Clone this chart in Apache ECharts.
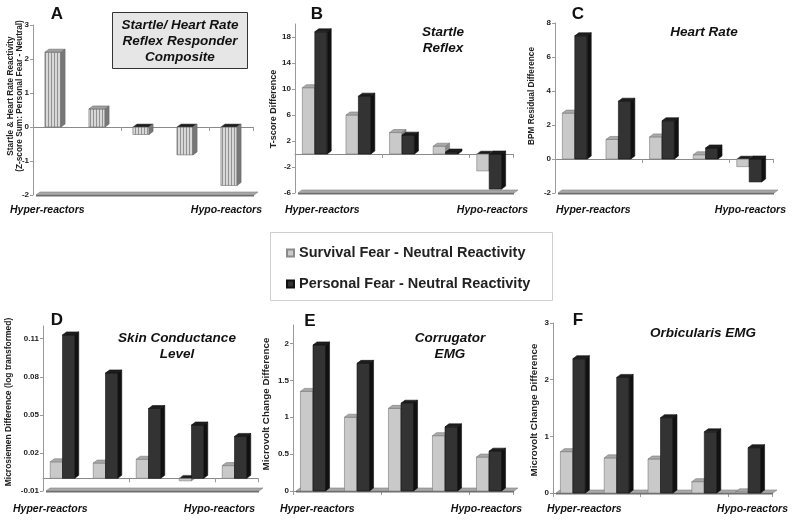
<!DOCTYPE html>
<html>
<head>
<meta charset="utf-8">
<script src="https://cdn.jsdelivr.net/npm/echarts@6/dist/echarts.min.js"></script>
<style>html,body{margin:0;padding:0;background:#fff}#c{width:800px;height:521px}</style>
</head>
<body>
<div id="c"></div>
<script>
// ---------- data ----------
const categories = ['Group 1', 'Group 2', 'Group 3', 'Group 4', 'Group 5'];
const compositeA = [2.2, 0.53, -0.22, -0.82, -1.72];
const startleSurvival = [10.2, 6.0, 3.3, 1.2, -2.6];
const startlePersonal = [18.8, 8.9, 2.9, 0.3, -5.4];
const hrSurvival = [2.7, 1.15, 1.3, 0.25, -0.45];
const hrPersonal = [7.25, 3.4, 2.25, 0.65, -1.35];
const sclSurvival = [0.013, 0.012, 0.015, -0.002, 0.01];
const sclPersonal = [0.113, 0.083, 0.055, 0.042, 0.033];
const corrSurvival = [1.35, 1.0, 1.12, 0.75, 0.46];
const corrPersonal = [1.98, 1.73, 1.19, 0.87, 0.54];
const orbSurvival = [0.73, 0.62, 0.6, 0.2, 0.02];
const orbPersonal = [2.37, 2.04, 1.33, 1.08, 0.8];
const yMins = [-2, -6, -2, -0.01, 0, 0];
const yMaxs = [3, 20, 8, 0.12, 2.25, 3];
const yIntervals = [1, 4, 2, 0.03, 0.5, 1];
const legendNames = ['Survival Fear - Neutral Reactivity', 'Personal Fear - Neutral Reactivity'];

// ---------- layout ----------
const FONT = 'Liberation Sans, Arial, sans-serif';
const grids = [
  {left: 33, top: 25, width: 220, height: 170},
  {left: 295, top: 24, width: 218, height: 169},
  {left: 555, top: 23, width: 218, height: 170},
  {left: 43, top: 326, width: 215, height: 165},
  {left: 293, top: 325, width: 220, height: 166},
  {left: 553, top: 323, width: 219, height: 170}
];

const hatch = document.createElement('canvas');
hatch.width = 3; hatch.height = 3;
(function(){const g = hatch.getContext('2d'); g.fillStyle = '#d8d8d8'; g.fillRect(0,0,3,3); g.fillStyle = '#929292'; g.fillRect(0,0,1,3);})();

const styles = {
  light: {front: '#c9c9c9', top: '#a9a9a9', side: '#8a8a8a', stroke: '#7a7a7a'},
  dark: {front: '#333333', top: '#1e1e1e', side: '#111111', stroke: '#111111'},
  hatch: {front: {image: hatch, repeat: 'repeat'}, top: '#a0a0a0', side: '#777777', stroke: '#6a6a6a'}
};

function barSeries(gi, values, kind, slot, nSlots, ratio, name) {
  const st = styles[kind];
  return {
    type: 'custom', name: name, xAxisIndex: gi, yAxisIndex: gi, z: 3,
    data: values.map((v, i) => [i, v]),
    encode: {x: 0, y: 1},
    itemStyle: {color: kind === 'dark' ? '#333333' : '#c9c9c9', borderColor: kind === 'dark' ? '#111' : '#8a8a8a', borderWidth: 0.6},
    renderItem: function (params, api) {
      const i = api.value(0), v = api.value(1);
      const base = api.coord([i, 0]);
      const tip = api.coord([i, v]);
      const band = api.size([1, 0])[0];
      const bw = band * ratio;
      const d = 4, dy = 3;
      const groupW = nSlots * bw + d;
      const x = base[0] - groupW / 2 + slot * bw;
      const yT = Math.min(base[1], tip[1]);
      const yB = Math.max(base[1], tip[1]);
      const topFill = v < 0 ? '#1a1a1a' : st.top;
      return {
        type: 'group',
        children: [
          {type: 'rect', shape: {x: x, y: yT, width: bw, height: Math.max(yB - yT, 0.5)},
           style: {fill: st.front, stroke: st.stroke, lineWidth: 0.6}},
          {type: 'polygon', shape: {points: [[x, yT], [x + d, yT - dy], [x + bw + d, yT - dy], [x + bw, yT]]},
           style: {fill: topFill, stroke: st.stroke, lineWidth: 0.6}},
          {type: 'polygon', shape: {points: [[x + bw, yT], [x + bw + d, yT - dy], [x + bw + d, yB - dy], [x + bw, yB]]},
           style: {fill: st.side, stroke: st.stroke, lineWidth: 0.6}}
        ]
      };
    }
  };
}

function floorSeries(gi) {
  return {
    type: 'custom', xAxisIndex: gi, yAxisIndex: gi, z: 1, silent: true,
    data: [[0, yMins[gi]]], encode: {x: 0, y: 1},
    renderItem: function (params, api) {
      const cs = params.coordSys;
      const x = cs.x + 3, w = cs.width - 2, yb = cs.y + cs.height;
      const d = 4, dy = 3;
      return {
        type: 'group',
        children: [
          {type: 'polygon', shape: {points: [[x, yb], [x + d, yb - dy], [x + w + d, yb - dy], [x + w, yb]]},
           style: {fill: '#a8a8a8', stroke: '#808080', lineWidth: 0.6}},
          {type: 'rect', shape: {x: x, y: yb, width: w, height: 1.5}, style: {fill: '#6e6e6e'}}
        ]
      };
    }
  };
}

const fmt = v => String(Math.round(v * 1000) / 1000);

const xAxes = grids.map((g, gi) => ({
  type: 'category', gridIndex: gi, data: categories,
  axisLine: {onZero: true, lineStyle: {color: '#8a8a8a', width: 1}},
  axisTick: {show: true, length: 4, lineStyle: {color: '#9a9a9a'}},
  axisLabel: {show: false}, splitLine: {show: false}
}));
const yAxes = grids.map((g, gi) => ({
  type: 'value', gridIndex: gi, min: yMins[gi], max: yMaxs[gi], interval: yIntervals[gi],
  axisLine: {show: true, lineStyle: {color: '#9a9a9a', width: 1}},
  axisTick: {show: true, length: 3, lineStyle: {color: '#9a9a9a'}},
  splitLine: {show: false},
  axisLabel: {fontSize: 8, fontWeight: 'bold', color: '#222', fontFamily: FONT, margin: 4,
    showMaxLabel: [true, false, true, false, false, true][gi], formatter: fmt}
}));

const series = [];
grids.forEach((g, gi) => series.push(floorSeries(gi)));
series.push(barSeries(0, compositeA, 'hatch', 0, 1, 0.367, 'Composite'));
const pairs = [[1, startleSurvival, startlePersonal], [2, hrSurvival, hrPersonal], [3, sclSurvival, sclPersonal],
               [4, corrSurvival, corrPersonal], [5, orbSurvival, orbPersonal]];
pairs.forEach(p => {
  series.push(barSeries(p[0], p[1], 'light', 0, 2, 0.285, legendNames[0]));
  series.push(barSeries(p[0], p[2], 'dark', 1, 2, 0.285, legendNames[1]));
});

function txt(text, x, y, font, opts) {
  return Object.assign({type: 'text', x: x, y: y, z: 10, silent: true,
    style: Object.assign({text: text, font: font, fill: '#111', textAlign: 'center', textVerticalAlign: 'middle'}, (opts && opts.style) || {})},
    opts && opts.rotation ? {rotation: opts.rotation} : {});
}
const letterFont = 'bold 17px ' + FONT;
const titleFont = 'italic bold 13.5px ' + FONT;
const reactFont = 'italic bold 10.5px ' + FONT;
const R90 = Math.PI / 2;

const graphics = [
  {type: 'rect', z: 0, shape: {x: 270.5, y: 232.5, width: 282, height: 68}, style: {fill: '#fff', stroke: '#cfcfcf', lineWidth: 1}},
  {type: 'rect', z: 5, shape: {x: 112.5, y: 12.5, width: 135, height: 56}, style: {fill: '#e6e6e6', stroke: '#333', lineWidth: 1}},
  txt('Startle/ Heart Rate', 180, 25, titleFont),
  txt('Reflex Responder', 180, 41, titleFont),
  txt('Composite', 180, 57, titleFont),
  txt('A', 57, 14, letterFont), txt('B', 317, 14, letterFont), txt('C', 578, 14, letterFont),
  txt('D', 57, 320, letterFont), txt('E', 310, 321, letterFont), txt('F', 578, 320, letterFont),
  txt('Startle', 443, 32, titleFont), txt('Reflex', 443, 48, titleFont),
  txt('Heart Rate', 704, 32, titleFont),
  txt('Skin Conductance', 177, 338, titleFont), txt('Level', 177, 354, titleFont),
  txt('Corrugator', 450, 338, titleFont), txt('EMG', 450, 354, titleFont),
  txt('Orbicularis EMG', 703, 333, titleFont),
  // hyper / hypo
  txt('Hyper-reactors', 10, 210, reactFont, {style: {textAlign: 'left'}}),
  txt('Hypo-reactors', 262, 210, reactFont, {style: {textAlign: 'right'}}),
  txt('Hyper-reactors', 285, 210, reactFont, {style: {textAlign: 'left'}}),
  txt('Hypo-reactors', 528, 210, reactFont, {style: {textAlign: 'right'}}),
  txt('Hyper-reactors', 556, 210, reactFont, {style: {textAlign: 'left'}}),
  txt('Hypo-reactors', 786, 210, reactFont, {style: {textAlign: 'right'}}),
  txt('Hyper-reactors', 13, 509, reactFont, {style: {textAlign: 'left'}}),
  txt('Hypo-reactors', 255, 509, reactFont, {style: {textAlign: 'right'}}),
  txt('Hyper-reactors', 280, 509, reactFont, {style: {textAlign: 'left'}}),
  txt('Hypo-reactors', 522, 509, reactFont, {style: {textAlign: 'right'}}),
  txt('Hyper-reactors', 547, 509, reactFont, {style: {textAlign: 'left'}}),
  txt('Hypo-reactors', 788, 509, reactFont, {style: {textAlign: 'right'}}),
  // y axis names
  txt('Startle & Heart Rate Reactivity\n(Z-score Sum: Personal Fear - Neutral)', 15, 96, 'bold 8.3px ' + FONT, {rotation: R90, style: {lineHeight: 8.5, fill: '#222'}}),
  txt('T-score Difference', 274, 109, 'bold 9px ' + FONT, {rotation: R90, style: {fill: '#222'}}),
  txt('BPM Residual Difference', 532, 96, 'bold 8.3px ' + FONT, {rotation: R90, style: {fill: '#222'}}),
  txt('Microsiemen Difference (log transformed)', 9, 402, 'bold 8.5px ' + FONT, {rotation: R90, style: {fill: '#222'}}),
  txt('Microvolt Change Difference', 266, 404, 'bold 9.8px ' + FONT, {rotation: R90, style: {fill: '#222'}}),
  txt('Microvolt Change Difference', 534, 410, 'bold 9.8px ' + FONT, {rotation: R90, style: {fill: '#222'}})
];

const chart = echarts.init(document.getElementById('c'), null, {renderer: 'canvas'});
chart.setOption({
  animation: false,
  backgroundColor: '#ffffff',
  grid: grids.map(g => Object.assign({containLabel: false}, g)),
  xAxis: xAxes,
  yAxis: yAxes,
  legend: {
    data: legendNames.map(n => ({name: n, icon: 'rect'})),
    orient: 'vertical', left: 281, top: 240, itemWidth: 7, itemHeight: 7, itemGap: 15,
    textStyle: {fontSize: 14.5, fontWeight: 'bold', color: '#222', fontFamily: FONT, lineHeight: 16},
    selectedMode: false
  },
  graphic: graphics,
  series: series
});
</script>
</body>
</html>
